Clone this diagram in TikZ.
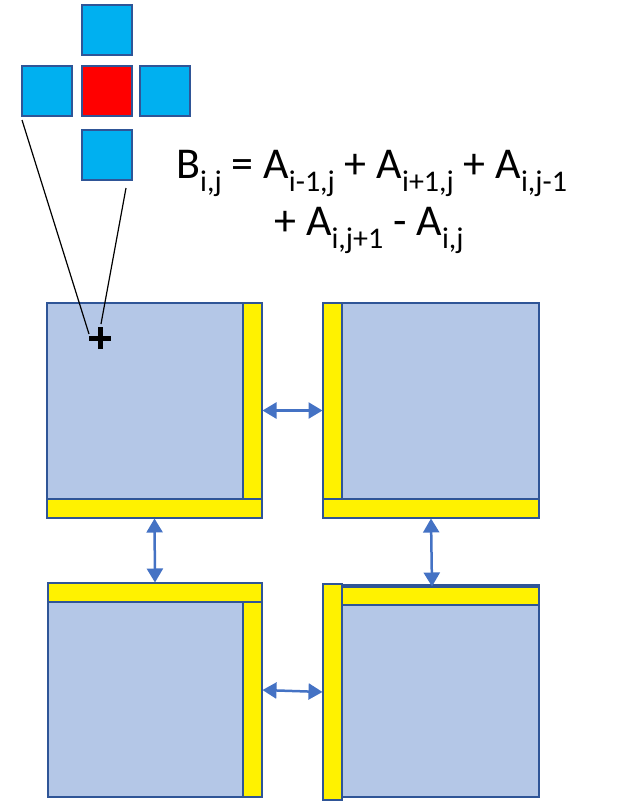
\documentclass[tikz,border=0pt]{standalone}
\usepackage{fontspec}
\setmainfont{Carlito}
\usetikzlibrary{arrows.meta}
\definecolor{panelblue}{HTML}{B4C7E7}
\definecolor{edgeblue}{HTML}{2F5597}
\definecolor{cellblue}{HTML}{00B0F0}
\definecolor{arrowblue}{HTML}{4472C4}
\newcommand{\sbs}[1]{\raisebox{-0.3em}{\fontsize{30}{30}\selectfont #1}}
\begin{document}
\begin{tikzpicture}[x=1pt,y=-1pt,
  box/.style={rectangle,anchor=north west,inner sep=0pt,outer sep=0pt},
  panel/.style={box,fill=panelblue,draw=edgeblue,line width=2pt},
  strip/.style={box,fill=yellow,draw=edgeblue,line width=2pt},
  cell/.style={box,fill=cellblue,draw=edgeblue,line width=2.5pt,minimum width=50pt,minimum height=50pt},
  link/.style={arrowblue,line width=2.5pt,{Triangle[length=14pt,width=16pt]}-{Triangle[length=14pt,width=16pt]},shorten <=0.5pt,shorten >=0.5pt},
  thin/.style={black,line width=1.2pt},
  eq/.style={inner sep=0pt,anchor=base west,font=\fontsize{44}{44}\selectfont}
]
\useasboundingbox (0,0) rectangle (624,801);

% stencil cells
\node[cell] (ct) at (82,5) {};
\node[cell] (cl) at (22,66) {};
\node[cell,fill=red] (cc) at (82,66) {};
\node[cell] (cr) at (140,66) {};
\node[cell] (cb) at (82,130) {};

% formula
\node[eq] (eq1) at (176,178) {B\sbs{i,j} = A\sbs{i-1,j} + A\sbs{i+1,j} + A\sbs{i,j-1}};
\node[eq] (eq2) at (274,235) {+ A\sbs{i,j+1} - A\sbs{i,j}};

% panels
\node[panel,minimum width=215pt,minimum height=215pt] (tl) at (47,303) {};
\node[strip,minimum width=19pt,minimum height=196pt] (tlR) at (243,303) {};
\node[strip,minimum width=215pt,minimum height=19pt] (tlB) at (47,499) {};

\node[panel,minimum width=216pt,minimum height=215pt] (tr) at (323,303) {};
\node[strip,minimum width=19pt,minimum height=196pt] (trL) at (323,303) {};
\node[strip,minimum width=216pt,minimum height=19pt] (trB) at (323,499) {};

\node[panel,minimum width=214pt,minimum height=214pt] (bl) at (48,583) {};
\node[strip,minimum width=214pt,minimum height=19pt] (blT) at (48,583) {};
\node[strip,minimum width=19pt,minimum height=195pt] (blR) at (243,602) {};

\node[panel,minimum width=216pt,minimum height=212pt] (br) at (323,585) {};
\node[strip,minimum width=19pt,minimum height=216pt] (brL) at (323,584) {};
\node[strip,minimum width=197pt,minimum height=18pt] (brT) at (342,587) {};

% zoom lines and point
\coordinate (l1a) at (22,120);
\coordinate (l1b) at (89,334);
\coordinate (l2a) at (126,188);
\coordinate (l2b) at (101,324);
\draw[thin] (l1a) -- (l1b);
\draw[thin] (l2a) -- (l2b);
\coordinate (p) at (100,338);
\draw[line width=5pt] ([xshift=-11pt]p) -- ([xshift=11pt]p);
\draw[line width=5pt] ([yshift=-11pt]p) -- ([yshift=11pt]p);

% exchange arrows
\draw[link] (tl.east) -- (tr.west);
\draw[link] (tlB.south) -- (blT.north);
\draw[link] (trB.south) -- ([xshift=1pt]brT.north -| trB.south);
\draw[link] (bl.east) -- (brL.west);
\end{tikzpicture}
\end{document}
